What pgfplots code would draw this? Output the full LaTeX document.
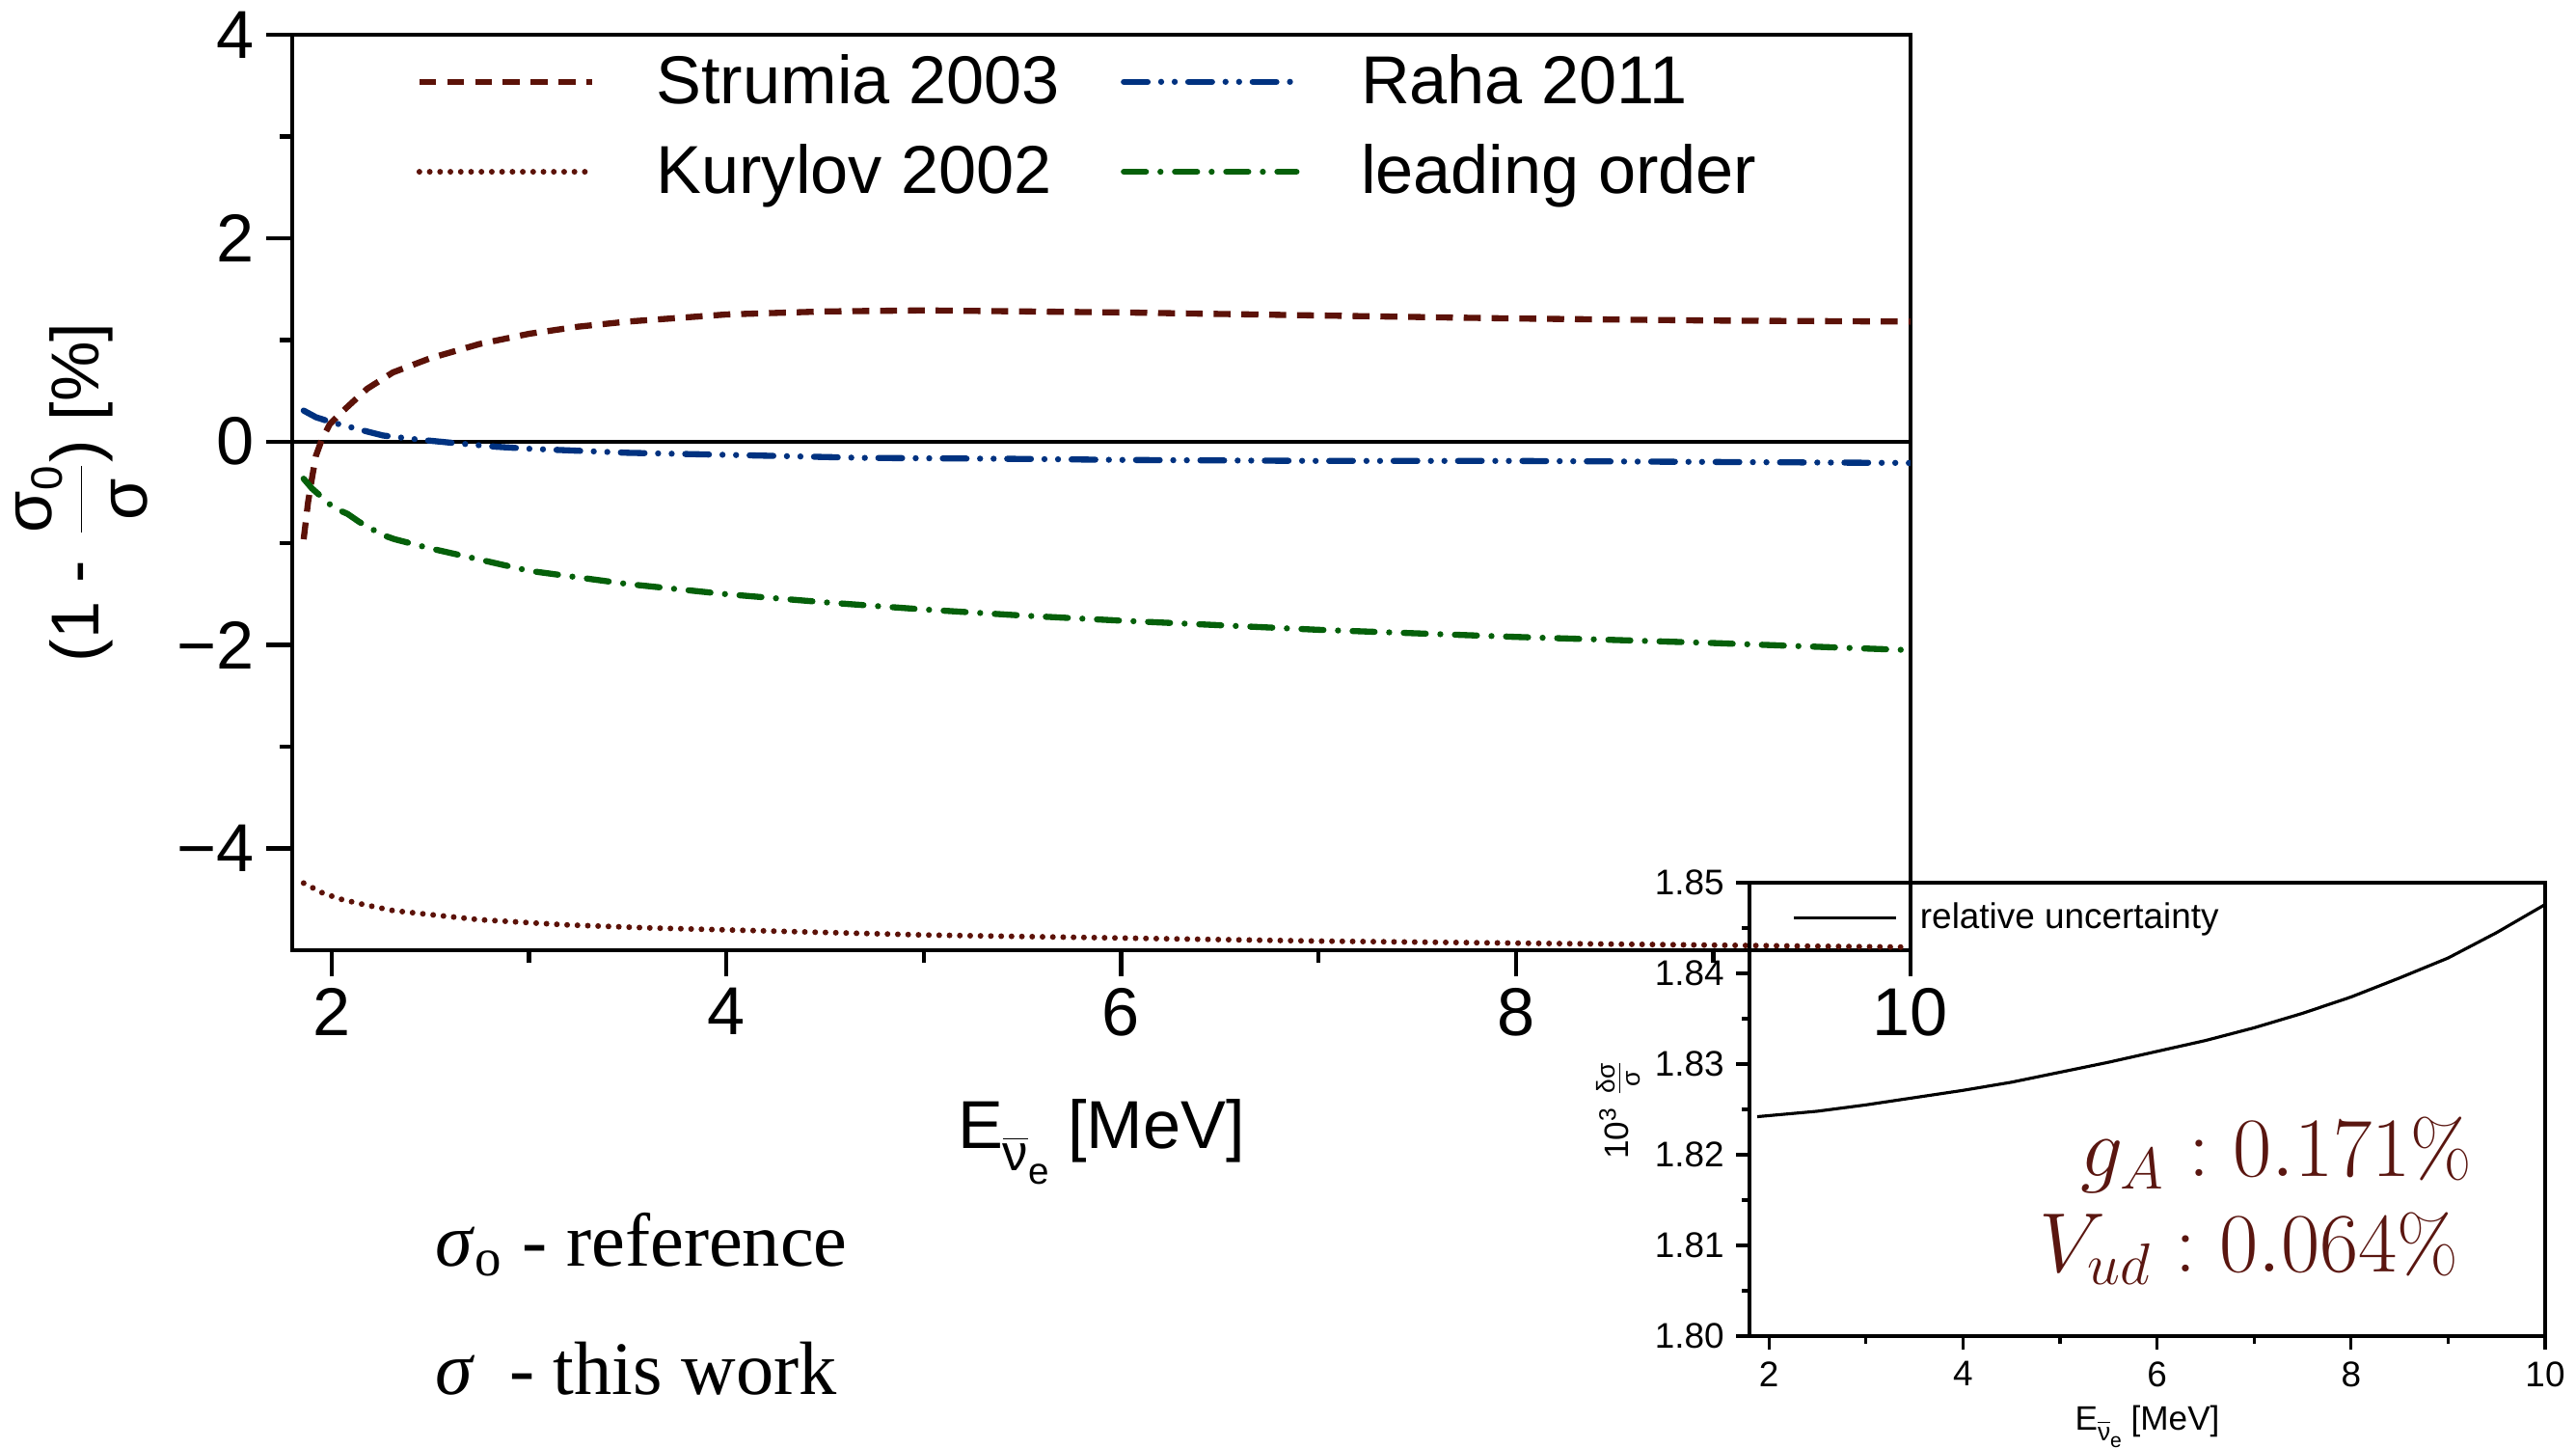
\documentclass[border=0pt]{standalone}
\usepackage{fontspec}
\setsansfont{Liberation Sans}
\renewcommand{\familydefault}{\sfdefault}
\newfontfamily\seriffont{Liberation Serif}
\usepackage{pgfplots}
\pgfplotsset{compat=1.18}
\definecolor{dred}{RGB}{92,18,8}
\definecolor{dblue}{RGB}{0,50,128}
\definecolor{dgreen}{RGB}{5,96,10}
\definecolor{tred}{RGB}{90,22,16}
\begin{document}
\sffamily
\begin{tikzpicture}
\path[use as bounding box] (0,0) rectangle (26.71,15);
\begin{axis}[
  at={(3.03cm,5.15cm)}, anchor=south west,
  scale only axis, width=16.78cm, height=9.49cm,
  xmin=1.8, xmax=10, ymin=-5, ymax=4,
  xtick={2,4,6,8,10}, xticklabels={2,4,6,8,10},
  ytick={-4,-2,0,2,4}, yticklabels={−4,−2,0,2,4},
  minor xtick={3,5,7,9}, minor ytick={-3,-1,1,3},
  tick align=outside, xtick pos=left, ytick pos=left,
  major tick length=0.27cm, minor tick length=0.13cm,
  axis line style={line width=1.25pt},
  tick style={black, line width=1.25pt},
  tick label style={font=\fontsize{20}{24}\selectfont},
  label style={font=\fontsize{20}{24}\selectfont},
  xlabel={E\raisebox{-0.6ex}{\fontsize{15}{15}\selectfont$\overline{\mbox{ν}}$\raisebox{-0.5ex}{\fontsize{11}{11}\selectfont e}}\ [MeV]},
  xlabel style={at={(axis description cs:0.5,-0.217)}, anchor=base},
  ylabel={(1 -\hspace{0.35em}$\displaystyle\frac{\mbox{σ\raisebox{-0.3ex}{\fontsize{13}{13}\selectfont 0}}}{\mbox{σ}}$) [\%]},
  ylabel style={at={(axis description cs:-0.13,0.5)}, anchor=center},
  legend columns=2,
  legend cell align=left,
  legend style={draw=none, fill=none, at={(axis description cs:0.07,0.99)}, anchor=north west,
    font=\fontsize{20}{24}\selectfont, column sep=0.6cm, row sep=0.3cm,
    nodes={inner xsep=1pt, inner ysep=1pt}},
  legend image code/.code={\draw[#1] (0cm,0cm) -- (1.79cm,0cm);},
]
\addplot[black, line width=1.25pt, forget plot] coordinates {(1.8,0) (10,0)};
\addplot[dred, line width=1.8pt, dash pattern=on 5pt off 3.2pt] coordinates {
(1.858,-0.96) (1.88,-0.6) (1.90,-0.36) (1.92,-0.14) (1.95,0.02) (1.99,0.17) (2.04,0.27) (2.09,0.36) (2.18,0.52) (2.31,0.68) (2.5,0.82) (2.75,0.96) (3.0,1.06) (3.25,1.13) (3.5,1.18) (4.0,1.25) (4.5,1.28) (5.0,1.29) (5.5,1.28) (6.0,1.27) (7.0,1.24) (8.0,1.21) (9.0,1.19) (10.0,1.18)};
\addlegendentry{Strumia 2003}
\addplot[dblue, line width=1.8pt, line cap=round, dash pattern=on 7pt off 4pt on 0pt off 4pt on 0pt off 4pt] coordinates {
(1.858,0.305) (1.92,0.24) (2.0,0.19) (2.13,0.125) (2.19,0.094) (2.26,0.06) (2.35,0.04) (2.44,0.02) (2.6,-0.01) (2.83,-0.05) (3.0,-0.07) (3.5,-0.11) (4.0,-0.13) (4.7,-0.16) (5.5,-0.17) (6.0,-0.18) (7.0,-0.19) (8.0,-0.19) (9.0,-0.2) (10.0,-0.21)};
\addlegendentry{Raha 2011}
\addplot[dred, line width=1.7pt, line cap=round, dash pattern=on 0pt off 3.05pt] coordinates {
(1.858,-4.34) (1.957,-4.44) (2.05,-4.50) (2.16,-4.55) (2.31,-4.61) (2.5,-4.65) (2.75,-4.70) (3.18,-4.75) (3.6,-4.78) (4.2,-4.81) (5.0,-4.85) (6.0,-4.88) (7.0,-4.91) (8.0,-4.93) (9.0,-4.95) (10.0,-4.97)};
\addlegendentry{Kurylov 2002}
\addplot[dgreen, line width=1.8pt, line cap=round, dash pattern=on 6.5pt off 4.3pt on 0pt off 4.3pt] coordinates {
(1.858,-0.365) (1.90,-0.46) (2.01,-0.65) (2.08,-0.71) (2.14,-0.79) (2.26,-0.92) (2.32,-0.96) (2.5,-1.05) (2.66,-1.12) (3.0,-1.27) (3.5,-1.40) (4.0,-1.50) (4.5,-1.58) (5.0,-1.65) (5.5,-1.71) (6.0,-1.76) (7.0,-1.85) (8.0,-1.92) (9.0,-1.98) (10.0,-2.05)};
\addlegendentry{leading order}
\end{axis}
\begin{axis}[
  at={(18.14cm,1.15cm)}, anchor=south west,
  scale only axis, width=8.25cm, height=4.70cm,
  xmin=1.8, xmax=10, ymin=1.80, ymax=1.85,
  xtick={2,4,6,8,10}, xticklabels={2,4,6,8,10},
  ytick={1.80,1.81,1.82,1.83,1.84,1.85}, yticklabels={1.80,1.81,1.82,1.83,1.84,1.85},
  minor xtick={3,5,7,9}, minor ytick={1.805,1.815,1.825,1.835,1.845},
  tick align=outside, xtick pos=left, ytick pos=left,
  major tick length=0.14cm, minor tick length=0.08cm,
  axis line style={line width=0.9pt},
  tick style={black, line width=0.9pt},
  tick label style={font=\fontsize{10.5}{12}\selectfont},
  label style={font=\fontsize{10}{12}\selectfont},
  xlabel={E\raisebox{-0.6ex}{\fontsize{7.5}{7.5}\selectfont$\overline{\mbox{ν}}$\raisebox{-0.5ex}{\fontsize{6}{6}\selectfont e}}\ [MeV]},
  xlabel style={at={(axis description cs:0.5,-0.207)}, anchor=base},
  ylabel={10\textsuperscript{3} $\frac{\mbox{\fontsize{7.5}{7.5}\selectfont δσ}}{\mbox{\fontsize{7.5}{7.5}\selectfont σ}}$},
  ylabel style={at={(axis description cs:-0.165,0.5)}, anchor=center},
  legend cell align=left,
  legend style={draw=none, fill=none, at={(axis description cs:0.04,0.98)}, anchor=north west,
    font=\fontsize{10.5}{12}\selectfont, column sep=0.2cm, nodes={inner xsep=1pt, inner ysep=1pt}},
  legend image code/.code={\draw[#1] (0cm,0cm) -- (1.06cm,0cm);},
]
\addplot[black, line width=0.9pt] coordinates {
(1.88,1.8242) (2.5,1.8248) (3,1.8255) (3.5,1.8263) (4,1.8271) (4.5,1.8280) (5,1.8291) (5.5,1.8302) (6,1.8314) (6.5,1.8326) (7,1.8340) (7.5,1.8356) (8,1.8374) (8.5,1.8395) (9,1.8417) (9.5,1.8445) (10,1.8476)};
\addlegendentry{relative uncertainty}
\end{axis}
\node[anchor=base east, inner sep=0pt, text=tred, font=\rmfamily\fontsize{23.4}{28}\selectfont] at (25.64,2.807) {$g_A : 0.171\%$};
\node[anchor=base east, inner sep=0pt, text=tred, font=\rmfamily\fontsize{23.4}{28}\selectfont] at (25.50,1.817) {$V_{ud} : 0.064\%$};
\node[anchor=base west, inner sep=0pt, font=\seriffont\fontsize{22.3}{26}\selectfont] at (4.51,1.88) {\textit{σ}\textsubscript{o} - reference};
\node[anchor=base west, inner sep=0pt, font=\seriffont\fontsize{22.3}{26}\selectfont] at (4.51,0.55) {\textit{σ}\hspace{0.2em} - this work};
\end{tikzpicture}
\end{document}
